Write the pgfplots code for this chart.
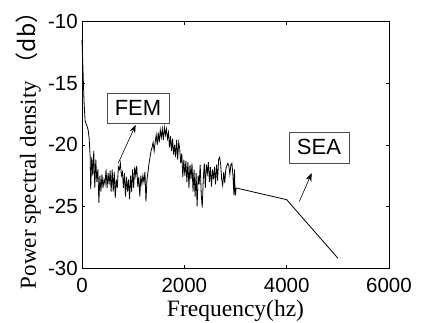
\documentclass[border=0pt]{standalone}
\usepackage{fontspec}
\setmainfont{Liberation Serif}
\newfontfamily\arial{Liberation Sans}
\newfontfamily\cjk{Noto Sans CJK SC}
\usepackage{pgfplots}
\pgfplotsset{compat=1.18}
\usetikzlibrary{arrows.meta}
\begin{document}
\begin{tikzpicture}
\useasboundingbox (0,0) rectangle (422pt,322pt);
\begin{axis}[
  at={(82pt,54pt)}, anchor=south west,
  scale only axis, width=307pt, height=246.3pt,
  xmin=0, xmax=6000, ymin=-30, ymax=-10,
  xtick={0,2000,4000,6000}, xticklabels={0,2000,4000,6000},
  ytick={-30,-25,-20,-15,-10}, yticklabels={-30,-25,-20,-15,-10},
  tick align=inside, major tick length=3pt,
  xtick pos=both, ytick pos=both,
  axis line style={line width=1pt},
  tick style={line width=0.6pt, black},
  ticklabel style={font=\arial\fontsize{20.5}{22}\selectfont},
  yticklabel style={anchor=east, inner sep=0pt, xshift=-4pt},
  xticklabel style={anchor=north, inner sep=0pt, yshift=-10pt},
  scaled ticks=false,
  xlabel={Frequency(hz)},
  ylabel={Power spectral density \cjk{（}db\cjk{）}\hspace{-0.5em}},
  xlabel style={font=\fontsize{23.5}{25}\selectfont, at={(axis description cs:0.5,0)}, anchor=base, yshift=-48pt},
  ylabel style={font=\fontsize{23}{25}\selectfont, inner sep=0pt, at={(axis description cs:0,0.5)}, anchor=base, yshift=46pt, xshift=0pt},
  clip=false,
]
\addplot[black, line width=0.8pt] coordinates {
(0,-11.5) (20,-14) (40,-16.5) (60,-18) (80,-18.3) (100,-18.5) (120,-18.8) (140,-19.5)
(160,-21) (170,-23.6) (190,-21) (210,-22.5) (230,-20.5) (250,-23.5) (270,-21.2) (290,-23)
(310,-22) (330,-24.7) (350,-22.5) (370,-23.8) (390,-22.4) (410,-23.5) (430,-22.8) (450,-23.2)
(470,-22) (490,-23.5) (510,-22.3) (530,-23.2) (550,-22.1) (570,-23.8) (590,-22) (610,-23.8)
(630,-22.2) (650,-24.3) (670,-22.8) (690,-23.5) (710,-21.8) (730,-22.0) (750,-21.5) (770,-22.5)
(790,-22.2) (810,-23.5) (830,-22.3) (850,-24.2) (870,-22.6) (890,-23.8) (910,-22.8) (930,-24.4)
(950,-22.5) (970,-23.8) (990,-22.0) (1010,-23.5) (1030,-21.8) (1050,-22.5) (1070,-21.7) (1090,-23.4)
(1110,-22.6) (1130,-24.2) (1150,-22.5) (1170,-23.2) (1190,-22.5) (1210,-23.0) (1230,-22.2) (1250,-24.6)
(1270,-22.8) (1290,-22.2) (1310,-21.5) (1330,-21.0) (1350,-20.5) (1370,-20.2) (1390,-19.8) (1410,-20.5)
(1430,-19.8) (1450,-19.2) (1470,-20.0) (1490,-19.0) (1510,-19.8) (1530,-18.8) (1550,-19.4) (1570,-18.7)
(1590,-19.6) (1610,-18.6) (1630,-19.2) (1650,-18.7) (1670,-19.5) (1690,-19.0) (1710,-20.2) (1730,-19.3)
(1750,-20.5) (1770,-19.5) (1790,-20.8) (1810,-20.0) (1830,-21.0) (1850,-19.6) (1870,-21.2) (1890,-19.8)
(1910,-20.3) (1930,-21.5) (1950,-20.7) (1970,-22.6) (1990,-21.2) (2010,-22.5) (2030,-21.3) (2050,-23.0)
(2070,-21.4) (2090,-23.5) (2110,-21.6) (2130,-22.8) (2150,-21.5) (2170,-23.8) (2190,-22.0) (2210,-24.2)
(2230,-22.3) (2250,-25.0) (2270,-22.5) (2290,-23.2) (2310,-21.6) (2330,-24.0) (2350,-25.1) (2370,-22.8)
(2390,-21.5) (2410,-23.5) (2430,-21.6) (2450,-22.3) (2470,-21.4) (2490,-23.0) (2510,-21.8) (2530,-23.4)
(2550,-22.0) (2570,-22.8) (2590,-21.8) (2610,-23.2) (2630,-21.6) (2650,-22.9) (2670,-21.2) (2690,-21.0)
(2710,-21.6) (2730,-22.8) (2750,-23.3) (2770,-22.2) (2790,-23.1) (2810,-22.0) (2830,-21.7) (2850,-21.5)
(2870,-21.7) (2890,-22.4) (2910,-21.6) (2930,-21.5) (2950,-22.5) (2970,-24.1) (2980,-22.0) (2990,-23.7)
(3000,-24.1) (3010,-23.5)
};
\addplot[black, line width=0.8pt] coordinates {(3010,-23.5) (4000,-24.45) (5000,-29.2)};
\node[draw=black!70, line width=0.6pt, minimum width=62pt, minimum height=30pt, inner sep=0pt,
  font=\arial\fontsize{22}{24}\selectfont] at (axis cs:1094,-17.0) {FEM};
\node[draw=black!70, line width=0.6pt, minimum width=60pt, minimum height=31pt, inner sep=0pt,
  font=\arial\fontsize{22}{24}\selectfont] at (axis cs:4632,-20.2) {SEA};
\draw[line width=0.6pt, -{Stealth[length=8pt,width=6pt]}] (axis cs:709,-21.48) -- (axis cs:1049,-18.38);
\draw[line width=0.6pt, -{Stealth[length=8pt,width=6pt]}] (axis cs:4247,-24.6) -- (axis cs:4489,-22.3);
\end{axis}
\end{tikzpicture}
\end{document}
